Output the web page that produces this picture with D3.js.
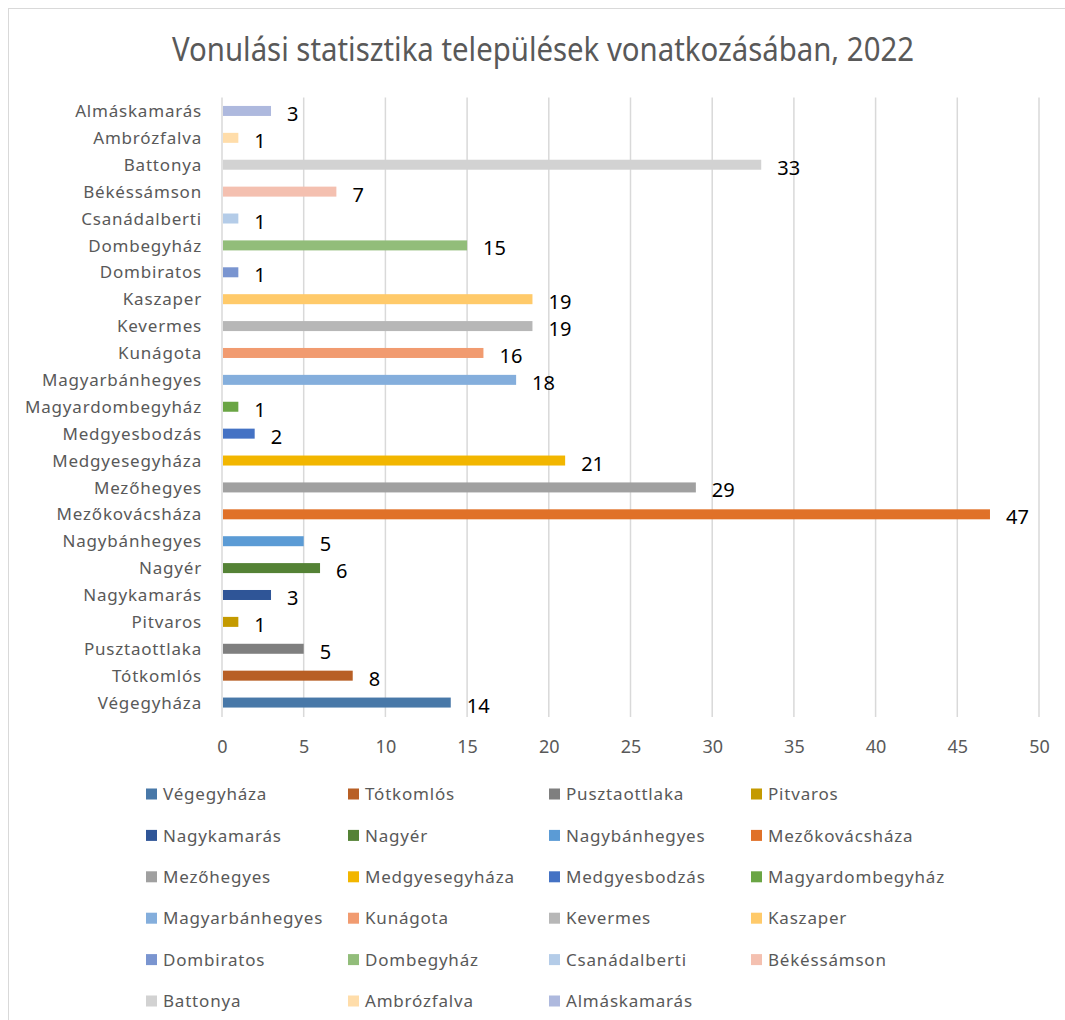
<!DOCTYPE html>
<html>
<head>
<meta charset="utf-8">
<script src="https://cdn.jsdelivr.net/npm/d3@7/dist/d3.min.js"></script>
</head>
<body style="margin: 0; background: #ffffff;">
<div id="chart"></div>
<script>

    'use strict';

    // categories top to bottom, as drawn
    var towns = ["Almáskamarás", "Ambrózfalva", "Battonya", "Békéssámson", "Csanádalberti",
        "Dombegyház", "Dombiratos", "Kaszaper", "Kevermes", "Kunágota", "Magyarbánhegyes",
        "Magyardombegyház", "Medgyesbodzás", "Medgyesegyháza", "Mezőhegyes", "Mezőkovácsháza",
        "Nagybánhegyes", "Nagyér", "Nagykamarás", "Pitvaros", "Pusztaottlaka", "Tótkomlós", "Végegyháza"];
    var counts = [3, 1, 33, 7, 1, 15, 1, 19, 19, 16, 18, 1, 2, 21, 29, 47, 5, 6, 3, 1, 5, 8, 14];
    var colors = ["#aeb9de", "#ffddaa", "#d2d2d2", "#f4c0b0", "#b4cce8", "#92bd7a", "#7a95d0",
        "#ffca6a", "#b7b7b7", "#f19b70", "#84aedc", "#6aa544", "#4472c4", "#f2b600", "#a0a0a0",
        "#e07128", "#5b9bd5", "#548235", "#2f5597", "#c49a00", "#7f7f7f", "#b85f25", "#4878a8"];
    var xTicks = [0, 5, 10, 15, 20, 25, 30, 35, 40, 45, 50];
    var title = "Vonulási statisztika települések vonatkozásában, 2022";

    var width = 1065, height = 1020;
    var plot = {left: 222, right: 1039, top: 97.5, bottom: 716};
    var textColor = "#595959";
    var font = "'Noto Sans', 'DejaVu Sans', sans-serif";

    var svg = d3.select("#chart").append("svg")
        .attr("width", width)
        .attr("height", height)
        .style("display", "block");

    // chart area border (cut off at right and bottom)
    svg.append("rect")
        .attr("x", 8.5).attr("y", 8.5)
        .attr("width", 1070).attr("height", 1030)
        .attr("fill", "none")
        .attr("stroke", "#d9d9d9");

    svg.append("text")
        .attr("x", 543).attr("y", 61)
        .attr("text-anchor", "middle")
        .attr("textLength", 742)
        .attr("lengthAdjust", "spacingAndGlyphs")
        .style("font-family", "'Liberation Sans Narrow', " + font)
        .style("font-size", "33px")
        .style("fill", textColor)
        .text(title);

    var x = d3.scaleLinear().domain([0, 50]).range([plot.left, plot.right]);
    var y = d3.scaleBand().domain(towns).range([plot.top, plot.bottom]);

    // vertical gridlines
    svg.append("g")
        .selectAll("line")
        .data(xTicks)
        .join("line")
        .attr("x1", d => x(d)).attr("x2", d => x(d))
        .attr("y1", plot.top).attr("y2", plot.bottom + 1)
        .attr("stroke", "#d9d9d9")
        .attr("stroke-width", 1.5);

    // x axis labels
    var xAxis = svg.append("g")
        .attr("transform", "translate(0," + plot.bottom + ")")
        .call(d3.axisBottom(x).tickValues(xTicks).tickSize(0).tickPadding(0));
    xAxis.select(".domain").remove();
    xAxis.selectAll("text")
        .attr("dy", null)
        .attr("y", 37)
        .style("font-family", font)
        .style("font-size", "18px")
        .style("fill", textColor);

    // y axis labels
    var yAxis = svg.append("g")
        .attr("transform", "translate(" + (plot.left - 20) + ",0)")
        .call(d3.axisLeft(y).tickSize(0).tickPadding(0));
    yAxis.select(".domain").remove();
    yAxis.selectAll("text")
        .attr("dy", "0.36em")
        .style("font-family", font)
        .style("font-size", "17px")
        .style("letter-spacing", "0.8px")
        .style("fill", textColor);

    var barH = 10;
    var rows = towns.map((t, i) => ({town: t, value: counts[i], color: colors[i]}));

    svg.append("g")
        .selectAll("rect")
        .data(rows)
        .join("rect")
        .attr("x", x(0) + 1)
        .attr("y", d => y(d.town) + y.bandwidth() / 2 - barH / 2)
        .attr("width", d => x(d.value) - x(0) - 1)
        .attr("height", barH)
        .attr("fill", d => d.color);

    svg.append("g")
        .selectAll("text")
        .data(rows)
        .join("text")
        .attr("x", d => x(d.value) + 16)
        .attr("y", d => y(d.town) + y.bandwidth() / 2 + 10)
        .style("font-family", font)
        .style("font-size", "20px")
        .style("fill", "#000000")
        .text(d => d.value);

    // legend, series order is bottom to top, 4 columns
    var legendRows = rows.slice().reverse();
    var colX = [146, 348, 549, 751];
    var legend = svg.append("g")
        .selectAll("g")
        .data(legendRows)
        .join("g")
        .attr("transform", (d, i) => "translate(" + colX[i % 4] + "," + (794 + Math.floor(i / 4) * 41.4) + ")");

    legend.append("rect")
        .attr("x", 0).attr("y", -5.5)
        .attr("width", 11).attr("height", 11)
        .attr("fill", d => d.color);

    legend.append("text")
        .attr("x", 17)
        .attr("dy", "0.36em")
        .style("font-family", font)
        .style("font-size", "17px")
        .style("letter-spacing", "0.8px")
        .style("fill", textColor)
        .text(d => d.town);

</script>
</body>
</html>
